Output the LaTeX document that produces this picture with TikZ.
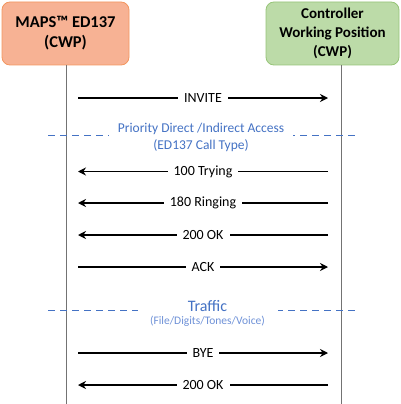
\documentclass[tikz,border=0pt]{standalone}
\usepackage{fontspec}
\setmainfont{Carlito}
\usetikzlibrary{positioning, arrows.meta, calc}

\definecolor{mapsfill}{RGB}{247,178,148}
\definecolor{mapsline}{RGB}{243,150,95}
\definecolor{cwpfill}{RGB}{188,219,168}
\definecolor{cwpline}{RGB}{150,196,120}
\definecolor{phase}{RGB}{68,114,196}
\definecolor{phaselight}{RGB}{110,145,215}

\begin{document}
\begin{tikzpicture}[x=1pt, y=-1pt]
                \tikzstyle{party} = [rounded corners=8pt, draw, line width=0.8pt, align=center, font=\bfseries]
                \tikzstyle{msg} = [black, line width=1.2pt, -{Stealth[length=8pt, width=8pt]}]
                \tikzstyle{label} = [fill=white, inner xsep=6pt, inner ysep=1pt, font=\fontsize{14}{16}\selectfont]
                \tikzstyle{phaseline} = [phase, line width=0.9pt, dash pattern=on 7pt off 5pt]
                \useasboundingbox (0,0) rectangle (400,404);

                % Parties
                \node[party, fill=mapsfill, draw=mapsline, minimum width=127pt, minimum height=63pt,
                      font=\bfseries\fontsize{16.5}{20}\selectfont] (maps) at (65.5,33.5) {MAPS™ ED137\\(CWP)};
                \node[party, fill=cwpfill, draw=cwpline, minimum width=133pt, minimum height=63pt,
                      font=\bfseries\fontsize{15}{19}\selectfont] (cwp) at (332.5,33.5) {Controller\\Working Position\\(CWP)};

                % Lifelines
                \coordinate (mapsend) at (66,404);
                \coordinate (cwpend) at (341,404);
                \draw[black!55, line width=0.9pt] (66,65) -- (mapsend);
                \draw[black!55, line width=0.9pt] (341,65) -- (cwpend);

                % Call setup
                \coordinate (l1) at (78,98);   \coordinate (r1) at (328,98);
                \draw[msg] (l1) -- node[label] (invite) {INVITE} (r1);

                \coordinate (dl1) at (48,135.5); \coordinate (dr1) at (358,135.5);
                \draw[phaseline] (dl1) -- (dr1);
                \node[fill=white, text=phase, inner xsep=9pt, inner ysep=0pt, align=center,
                      font=\fontsize{13.5}{17}\selectfont] (access) at (201,137.5)
                      {Priority Direct /Indirect Access\\(ED137 Call Type)};

                \coordinate (l2) at (78,171.5); \coordinate (r2) at (328,171.5);
                \draw[msg] (r2) -- node[label] (trying) {100 Trying} (l2);
                \coordinate (l3) at (78,203);   \coordinate (r3) at (328,203);
                \draw[msg] (r3) -- node[label] (ringing) {180 Ringing} (l3);
                \coordinate (l4) at (78,235);   \coordinate (r4) at (328,235);
                \draw[msg] (r4) -- node[label] (ok1) {200 OK} (l4);
                \coordinate (l5) at (78,267);   \coordinate (r5) at (328,267);
                \draw[msg] (l5) -- node[label] (ack) {ACK} (r5);

                % Traffic
                \coordinate (dl2) at (48,310.5); \coordinate (dr2) at (358,310.5);
                \draw[phaseline] (dl2) -- (dr2);
                \node[fill=white, text=phase, inner sep=0pt, minimum width=140pt, minimum height=24pt,
                      font=\fontsize{16}{18}\selectfont] (traffic) at (207.5,306) {Traffic};
                \node[text=phaselight, inner sep=0pt, font=\fontsize{11.5}{13}\selectfont] (kinds) at (207.5,321)
                      {(File/Digits/Tones/Voice)};

                % Release
                \coordinate (l6) at (78,353);   \coordinate (r6) at (328,353);
                \draw[msg] (l6) -- node[label] (bye) {BYE} (r6);
                \coordinate (l7) at (78,385);   \coordinate (r7) at (328,385);
                \draw[msg] (r7) -- node[label] (ok2) {200 OK} (l7);
            \end{tikzpicture}
\end{document}
